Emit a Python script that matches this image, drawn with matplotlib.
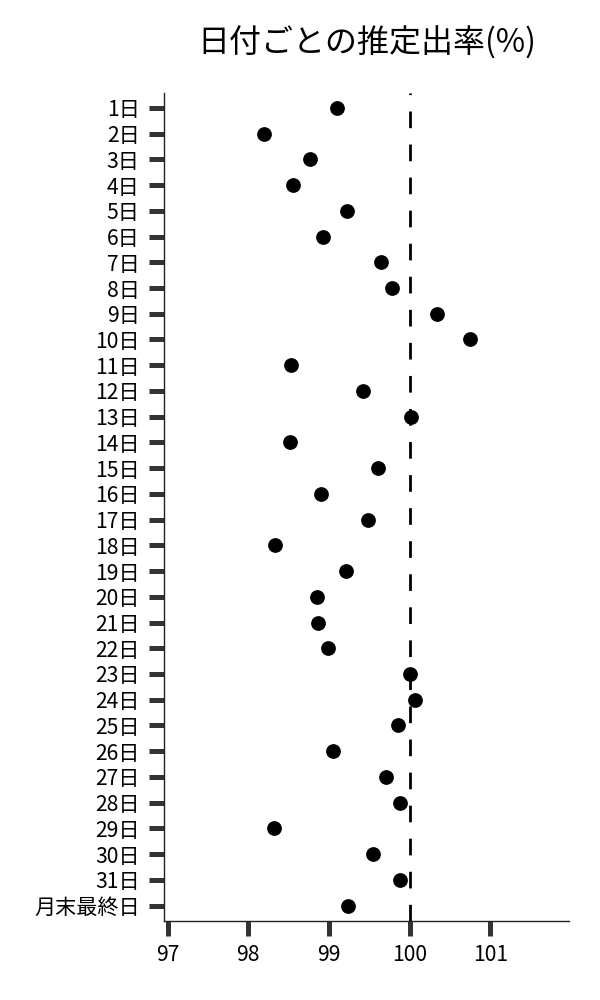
import matplotlib
matplotlib.use("Agg")
import matplotlib.pyplot as plt

plt.rcParams['font.family'] = ['Noto Sans CJK JP', 'DejaVu Sans']

categories = [f"{d}日" for d in range(1, 32)] + ["月末最終日"]
values = [99.10, 98.19, 98.77, 98.56, 99.22, 98.93, 99.65, 99.78, 100.34, 100.75,
          98.53, 99.42, 100.02, 98.52, 99.61, 98.90, 99.48, 98.33, 99.21, 98.85,
          98.86, 98.99, 100.00, 100.07, 99.86, 99.05, 99.71, 99.88, 98.32, 99.55,
          99.88, 99.24]
xticks = [97, 98, 99, 100, 101]
reference = 100
title = "日付ごとの推定出率(%)"

fig = plt.figure(figsize=(6, 10), dpi=100)
ax = fig.add_axes([0.274, 0.079, 0.675, 0.828])

pos = list(range(len(categories)))
ax.plot(values, pos, linestyle='none', marker='o', markersize=9.6,
        color='black', zorder=3)
ax.axvline(reference, color='black', linewidth=2.0, dashes=(6.0, 5.9), zorder=2)

ax.set_yticks(pos)
ax.set_yticklabels(categories)
ax.set_ylim(31.6, -0.58)
ax.set_xticks(xticks)
ax.set_xticklabels([str(t) for t in xticks])
ax.set_xlim(96.96, 101.98)

for s in ['top', 'right']:
    ax.spines[s].set_visible(False)
for s in ['left', 'bottom']:
    ax.spines[s].set_linewidth(1.0)
    ax.spines[s].set_color('#222222')

ax.tick_params(axis='both', length=10.8, width=3.6, color='#333333',
               labelsize=15.2, labelcolor='black')
ax.tick_params(axis='y', pad=7)
ax.tick_params(axis='x', pad=6)

fig.text(0.611, 1 - 43/1000, title, ha='center', va='center', fontsize=23)

fig.savefig("out.png", dpi=100)
